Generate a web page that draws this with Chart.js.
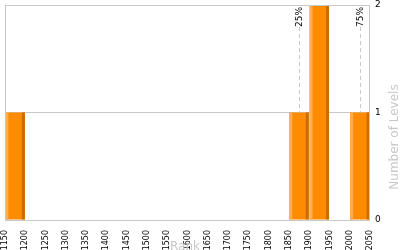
<!DOCTYPE html>
<html>
<head>
<meta charset="utf-8">
<script src="https://cdn.jsdelivr.net/npm/chart.js@4"></script>
<style>
  html, body { margin: 0; padding: 0; background: #fff; }
  #wrap { width: 400px; height: 250px; }
</style>
</head>
<body>
<div id="wrap"><canvas id="myChart"></canvas></div>
<script>
// bin centres (width 50) and level counts
const rankBins = [1175, 1225, 1275, 1325, 1375, 1425, 1475, 1525, 1575,
                  1625, 1675, 1725, 1775, 1825, 1875, 1925, 1975, 2025];
const levelCounts = [1, 0, 0, 0, 0, 0, 0, 0, 0,
                     0, 0, 0, 0, 0, 1, 2, 0, 1];
const rankMin = 1150;
const rankMax = 2050;
const rankStep = 50;
const levelTicks = [0, 1, 2];
const markerValues = [1875, 2025];
const markerLabels = ["25%", "75%"];

const gridGray = "#c8c8c8";
const titleGray = "#c8c8c8";

// dashed quartile lines behind the bars
const markerPlugin = {
  id: "markers",
  beforeDatasetsDraw(chart) {
    const { ctx, chartArea, scales } = chart;
    ctx.save();
    markerValues.forEach((v, i) => {
      const x = Math.round(scales.x.getPixelForValue(v)) + 0.5;
      ctx.strokeStyle = gridGray;
      ctx.lineWidth = 1;
      ctx.setLineDash([4, 3]);
      ctx.beginPath();
      ctx.moveTo(x, chartArea.top + 22);
      ctx.lineTo(x, chartArea.bottom);
      ctx.stroke();

      ctx.setLineDash([]);
      ctx.translate(x, chartArea.top + 2);
      ctx.rotate(-Math.PI / 2);
      ctx.fillStyle = "#000";
      ctx.font = "9px 'DejaVu Sans'";
      ctx.textAlign = "right";
      ctx.textBaseline = "middle";
      ctx.fillText(markerLabels[i], 0, 0);
      ctx.setTransform(1, 0, 0, 1, 0, 0);
    });
    ctx.restore();
  },
};

// light/dark edges on each bar, plot frame and axis titles
const decorPlugin = {
  id: "decor",
  afterDatasetsDraw(chart) {
    const { ctx, chartArea } = chart;
    const meta = chart.getDatasetMeta(0);
    ctx.save();
    meta.data.forEach((bar) => {
      const h = bar.base - bar.y;
      if (h <= 0) return;
      const left = bar.x - bar.width / 2;
      ctx.fillStyle = "#ffad55";
      ctx.fillRect(left, bar.y, 3, h);
      ctx.fillStyle = "#c86e00";
      ctx.fillRect(left + bar.width - 3, bar.y, 3, h);
    });

    ctx.strokeStyle = gridGray;
    ctx.lineWidth = 1;
    ctx.strokeRect(chartArea.left + 0.5, chartArea.top + 0.5,
                   chartArea.right - chartArea.left - 1, chartArea.bottom - chartArea.top);

    ctx.fillStyle = titleGray;
    ctx.font = "12px 'DejaVu Sans'";
    ctx.textAlign = "center";
    ctx.textBaseline = "alphabetic";
    ctx.fillText("Rank", 185, 250);

    ctx.translate(398, 137);
    ctx.rotate(-Math.PI / 2);
    ctx.fillText("Number of Levels", 0, 0);
    ctx.restore();
  },
};

const initChart = () => {
  const ctx = document.getElementById("myChart").getContext("2d");

  new Chart(ctx, {
    type: "bar",
    data: {
      labels: rankBins,
      datasets: [
        {
          label: "Number of Levels",
          data: rankBins.map((r, i) => ({ x: r, y: levelCounts[i] })),
          backgroundColor: "#ff8c00",
          borderWidth: 0,
          barPercentage: 0.96,
          categoryPercentage: 1,
        },
      ],
    },
    options: {
      responsive: true,
      maintainAspectRatio: false,
      animation: false,
      layout: { padding: { left: 5, top: 0, right: 0, bottom: 0 } },
      plugins: {
        legend: { display: false },
        tooltip: { enabled: false },
      },
      scales: {
        x: {
          type: "linear",
          min: rankMin,
          max: rankMax,
          offset: false,
          grid: { display: false },
          border: { display: false },
          afterFit(scale) { scale.height = 30; },
          afterBuildTicks(scale) {
            const t = [];
            for (let v = rankMin; v <= rankMax; v += rankStep) t.push({ value: v });
            scale.ticks = t;
          },
          ticks: {
            autoSkip: false,
            minRotation: 90,
            maxRotation: 90,
            padding: 2,
            color: "#000",
            font: { family: "DejaVu Sans", size: 8 },
            callback: (v) => String(v),
          },
        },
        y: {
          position: "right",
          min: 0,
          max: 2,
          grid: { color: gridGray, drawTicks: false },
          border: { display: false },
          afterFit(scale) {
            scale.width = 30;
            scale.paddingTop = 5;
          },
          afterBuildTicks(scale) {
            scale.ticks = levelTicks.map((v) => ({ value: v }));
          },
          ticks: {
            padding: 5,
            color: "#000",
            font: { family: "DejaVu Sans", size: 9 },
          },
        },
      },
    },
    plugins: [markerPlugin, decorPlugin],
  });
};

document.addEventListener("DOMContentLoaded", initChart);
</script>
</body>
</html>
